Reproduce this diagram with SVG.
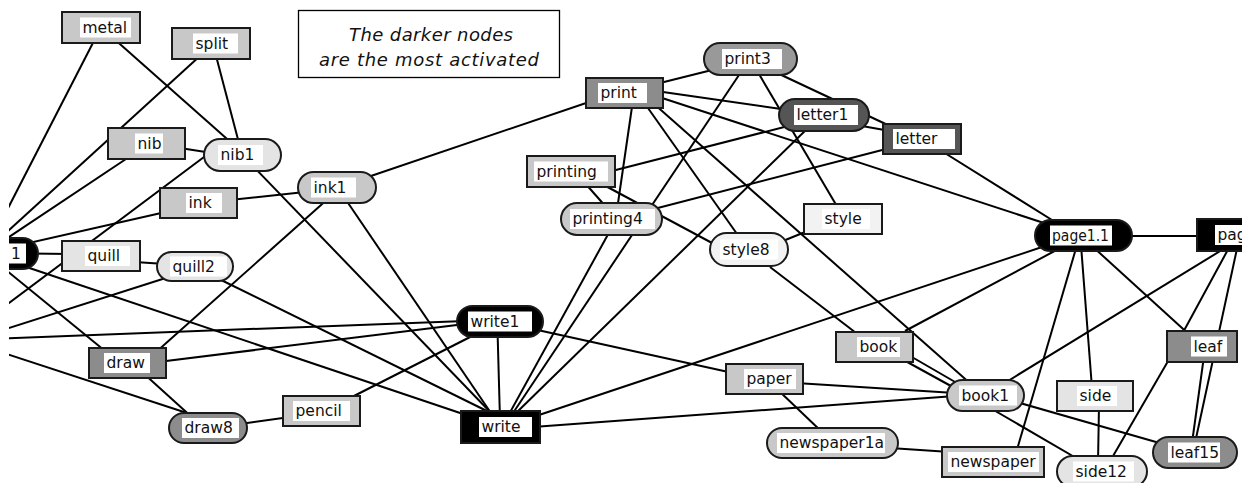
<svg xmlns="http://www.w3.org/2000/svg" width="1242" height="483" viewBox="0 0 1242 483">
  <style>
    .e { stroke: #000; stroke-width: 2; fill: none; }
    .n { stroke: #1a1a1a; stroke-width: 2; }
    .lb { fill: #fff; }
    .t { font-family: "DejaVu Sans", Verdana, sans-serif; font-size: 15.5px; fill: #111; }
    .cap { font-family: "DejaVu Sans", Verdana, sans-serif; font-size: 18px; font-style: italic; fill: #111; text-anchor: middle; }
    .k0 { fill: #000; }
    .k1 { fill: #555; }
    .k2 { fill: #8c8c8c; }
    .k2b { fill: #999; }
    .k3 { fill: #c8c8c8; }
    .k4 { fill: #e4e4e4; }
    .k5 { fill: #f2f2f2; }
  </style>
  <defs>
    <clipPath id="view">
      <rect x="9" y="0" width="1233" height="483"/>
    </clipPath>
  </defs>
  <rect width="1242" height="483" fill="#fff"/>

  <g clip-path="url(#view)">
    <g id="connectors">
      <line class="e" x1="97" y1="35" x2="-15" y2="253"/>
      <line class="e" x1="201" y1="55" x2="-16" y2="253"/>
      <line class="e" x1="132" y1="155" x2="-15" y2="253"/>
      <line class="e" x1="170" y1="211" x2="-15" y2="253"/>
      <line class="e" x1="-15" y1="253" x2="70" y2="254"/>
      <line class="e" x1="110" y1="355" x2="-15" y2="253"/>
      <line class="e" x1="-15" y1="253" x2="475" y2="418"/>
      <line class="e" x1="212" y1="151" x2="-27" y2="330"/>
      <line class="e" x1="172" y1="276" x2="-27" y2="339.5"/>
      <line class="e" x1="465" y1="321" x2="-27" y2="339.5"/>
      <line class="e" x1="190" y1="414" x2="-27" y2="343"/>
      <line class="e" x1="158" y1="362" x2="465" y2="324"/>
      <line class="e" x1="155" y1="353" x2="330" y2="197"/>
      <line class="e" x1="142" y1="372" x2="195" y2="420"/>
      <line class="e" x1="135" y1="262" x2="165" y2="264"/>
      <line class="e" x1="215" y1="277" x2="495" y2="415"/>
      <line class="e" x1="112" y1="37" x2="235" y2="146"/>
      <line class="e" x1="215" y1="52" x2="240" y2="147"/>
      <line class="e" x1="180" y1="148" x2="212" y2="153"/>
      <line class="e" x1="252" y1="165" x2="494" y2="416"/>
      <line class="e" x1="230" y1="200" x2="305" y2="192"/>
      <line class="e" x1="344" y1="197" x2="493" y2="416"/>
      <line class="e" x1="365" y1="178" x2="592" y2="101"/>
      <line class="e" x1="350" y1="398" x2="478" y2="333"/>
      <line class="e" x1="240" y1="424" x2="290" y2="417"/>
      <line class="e" x1="497.5" y1="330" x2="500" y2="420"/>
      <line class="e" x1="533" y1="329" x2="733" y2="373"/>
      <line class="e" x1="633" y1="100" x2="617" y2="210"/>
      <line class="e" x1="656" y1="84" x2="716" y2="69"/>
      <line class="e" x1="656" y1="91" x2="788" y2="110"/>
      <line class="e" x1="656" y1="96" x2="1050" y2="225"/>
      <line class="e" x1="643" y1="101" x2="742" y2="241"/>
      <line class="e" x1="653" y1="103" x2="972" y2="385"/>
      <line class="e" x1="743" y1="69" x2="511" y2="416"/>
      <line class="e" x1="775" y1="72" x2="892" y2="127"/>
      <line class="e" x1="756" y1="69" x2="838" y2="208"/>
      <line class="e" x1="862" y1="126" x2="890" y2="131"/>
      <line class="e" x1="810" y1="126" x2="514" y2="415"/>
      <line class="e" x1="608" y1="172" x2="792" y2="125"/>
      <line class="e" x1="584" y1="182" x2="607" y2="208"/>
      <line class="e" x1="600" y1="183" x2="727" y2="251"/>
      <line class="e" x1="650" y1="210" x2="890" y2="148"/>
      <line class="e" x1="611" y1="229" x2="508" y2="416"/>
      <line class="e" x1="778" y1="243" x2="810" y2="230"/>
      <line class="e" x1="770" y1="267" x2="860" y2="336"/>
      <line class="e" x1="1064" y1="246" x2="905" y2="331"/>
      <line class="e" x1="1048" y1="245" x2="533" y2="417"/>
      <line class="e" x1="1125" y1="236" x2="1205" y2="236"/>
      <line class="e" x1="1077" y1="245" x2="1016" y2="453"/>
      <line class="e" x1="1081" y1="245" x2="1092" y2="388"/>
      <line class="e" x1="1092" y1="246" x2="1193" y2="338"/>
      <line class="e" x1="1230" y1="245" x2="1003" y2="384"/>
      <line class="e" x1="1231" y1="244" x2="1180" y2="338"/>
      <line class="e" x1="1238" y1="244" x2="1195" y2="443"/>
      <line class="e" x1="1204" y1="356" x2="1192" y2="443"/>
      <line class="e" x1="1171" y1="356" x2="1109" y2="463"/>
      <line class="e" x1="955" y1="396" x2="533" y2="427"/>
      <line class="e" x1="796" y1="383" x2="955" y2="393"/>
      <line class="e" x1="985" y1="405" x2="1083" y2="462"/>
      <line class="e" x1="1013" y1="401" x2="1163" y2="444"/>
      <line class="e" x1="900" y1="358" x2="960" y2="391"/>
      <line class="e" x1="905" y1="353" x2="962" y2="386"/>
      <line class="e" x1="1099" y1="405" x2="1098" y2="463"/>
      <line class="e" x1="778" y1="390" x2="822" y2="432"/>
      <line class="e" x1="890" y1="448" x2="950" y2="452"/>
      <line class="e" x1="940" y1="150" x2="1060" y2="225"/>
    </g>

    <g id="node-1">
      <rect class="n k0" x="-60" y="238" width="98" height="31" rx="15.5"/>
      <rect class="lb" x="0" y="243.5" width="26" height="20"/>
      <text class="t" x="11" y="258.5">1</text>
    </g>
    <g id="node-metal">
      <rect class="n k3" x="62" y="12" width="78" height="31"/>
      <rect class="lb" x="80" y="17.5" width="51" height="20"/>
      <text class="t" x="82.5" y="32.5">metal</text>
    </g>
    <g id="node-split">
      <rect class="n k3" x="172" y="28" width="78" height="31"/>
      <rect class="lb" x="193" y="33.5" width="45" height="20"/>
      <text class="t" x="195.5" y="48.5">split</text>
    </g>
    <g id="node-nib">
      <rect class="n k3" x="108" y="128" width="77" height="31"/>
      <rect class="lb" x="135" y="133.5" width="28" height="20"/>
      <text class="t" x="137.5" y="148.5">nib</text>
    </g>
    <g id="node-nib1">
      <rect class="n k4" x="204" y="139" width="77" height="32" rx="16"/>
      <rect class="lb" x="218" y="145" width="45" height="20"/>
      <text class="t" x="220.5" y="160">nib1</text>
    </g>
    <g id="node-ink">
      <rect class="n k3" x="160" y="188" width="77" height="30"/>
      <rect class="lb" x="186" y="193" width="36" height="20"/>
      <text class="t" x="188.5" y="208">ink</text>
    </g>
    <g id="node-ink1">
      <rect class="n k3" x="298" y="172" width="78" height="31" rx="15.5"/>
      <rect class="lb" x="311" y="177.5" width="45" height="20"/>
      <text class="t" x="313.5" y="192.5">ink1</text>
    </g>
    <g id="node-quill">
      <rect class="n k4" x="62" y="241" width="78" height="30"/>
      <rect class="lb" x="85" y="246" width="45" height="20"/>
      <text class="t" x="87.5" y="261">quill</text>
    </g>
    <g id="node-quill2">
      <rect class="n k4" x="157" y="252" width="76" height="29" rx="14.5"/>
      <rect class="lb" x="170" y="256.5" width="57" height="20"/>
      <text class="t" x="172.5" y="271.5">quill2</text>
    </g>
    <g id="node-draw">
      <rect class="n k2" x="89" y="348" width="77" height="30"/>
      <rect class="lb" x="104" y="353" width="46" height="20"/>
      <text class="t" x="106.5" y="368">draw</text>
    </g>
    <g id="node-draw8">
      <rect class="n k2" x="169" y="413" width="78" height="30" rx="15"/>
      <rect class="lb" x="182" y="418" width="57" height="20"/>
      <text class="t" x="184.5" y="433">draw8</text>
    </g>
    <g id="node-pencil">
      <rect class="n k3" x="283" y="396" width="77" height="30"/>
      <rect class="lb" x="293" y="401" width="57" height="20"/>
      <text class="t" x="295.5" y="416">pencil</text>
    </g>
    <g id="node-write1">
      <rect class="n k0" x="457" y="306" width="86" height="31" rx="15.5"/>
      <rect class="lb" x="468" y="311.5" width="64" height="20"/>
      <text class="t" x="470.5" y="326.5">write1</text>
    </g>
    <g id="node-write">
      <rect class="n k0" x="461" y="411" width="79" height="32"/>
      <rect class="lb" x="479" y="417" width="53" height="20"/>
      <text class="t" x="481.5" y="432">write</text>
    </g>
    <g id="node-print">
      <rect class="n k2" x="586" y="78" width="77" height="30"/>
      <rect class="lb" x="598" y="83" width="49" height="20"/>
      <text class="t" x="600.5" y="98">print</text>
    </g>
    <g id="node-print3">
      <rect class="n k2b" x="704" y="43" width="93" height="32" rx="16"/>
      <rect class="lb" x="722" y="49" width="60" height="20"/>
      <text class="t" x="724.5" y="64">print3</text>
    </g>
    <g id="node-letter1">
      <rect class="n k1" x="779" y="99" width="90" height="32" rx="16"/>
      <rect class="lb" x="794" y="105" width="64" height="20"/>
      <text class="t" x="796.5" y="120">letter1</text>
    </g>
    <g id="node-letter">
      <rect class="n k1" x="883" y="124" width="78" height="30"/>
      <rect class="lb" x="893" y="129" width="62" height="20"/>
      <text class="t" x="895.5" y="144">letter</text>
    </g>
    <g id="node-printing">
      <rect class="n k3" x="527" y="156" width="88" height="31"/>
      <rect class="lb" x="534" y="161.5" width="74" height="20"/>
      <text class="t" x="536.5" y="176.5">printing</text>
    </g>
    <g id="node-printing4">
      <rect class="n k3" x="561" y="203" width="101" height="32" rx="16"/>
      <rect class="lb" x="570" y="209" width="85" height="20"/>
      <text class="t" x="572.5" y="224">printing4</text>
    </g>
    <g id="node-style">
      <rect class="n k5" x="804" y="204" width="78" height="30"/>
      <rect class="lb" x="822" y="209" width="48" height="20"/>
      <text class="t" x="824.5" y="224">style</text>
    </g>
    <g id="node-style8">
      <rect class="n k5" x="710" y="233" width="78" height="33" rx="16.5"/>
      <rect class="lb" x="720" y="239.5" width="58" height="20"/>
      <text class="t" x="722.5" y="254.5">style8</text>
    </g>
    <g id="node-page1-1">
      <rect class="n k0" x="1035" y="220" width="97" height="31" rx="15.5"/>
      <rect class="lb" x="1050" y="225.5" width="62" height="20"/>
      <text class="t" x="1052" y="240.5" textLength="57" lengthAdjust="spacingAndGlyphs">page1.1</text>
    </g>
    <g id="node-page">
      <rect class="n k0" x="1197" y="219" width="60" height="32"/>
      <rect class="lb" x="1215" y="225" width="40" height="20"/>
      <text class="t" x="1217.5" y="240">page</text>
    </g>
    <g id="node-book">
      <rect class="n k3" x="836" y="332" width="77" height="30"/>
      <rect class="lb" x="857" y="337" width="43" height="20"/>
      <text class="t" x="859.5" y="352">book</text>
    </g>
    <g id="node-book1">
      <rect class="n k3" x="947" y="380" width="77" height="31" rx="15.5"/>
      <rect class="lb" x="959" y="385.5" width="58" height="20"/>
      <text class="t" x="961.5" y="400.5">book1</text>
    </g>
    <g id="node-paper">
      <rect class="n k3" x="726" y="364" width="77" height="30"/>
      <rect class="lb" x="744" y="369" width="52" height="20"/>
      <text class="t" x="746.5" y="384">paper</text>
    </g>
    <g id="node-newspaper1a">
      <rect class="n k3" x="767" y="428" width="131" height="30" rx="15"/>
      <rect class="lb" x="777" y="433" width="108" height="20"/>
      <text class="t" x="779.5" y="448">newspaper1a</text>
    </g>
    <g id="node-newspaper">
      <rect class="n k3" x="942" y="447" width="102" height="30"/>
      <rect class="lb" x="948" y="452" width="91" height="20"/>
      <text class="t" x="950.5" y="467">newspaper</text>
    </g>
    <g id="node-side">
      <rect class="n k4" x="1057" y="381" width="76" height="30"/>
      <rect class="lb" x="1077" y="386" width="40" height="20"/>
      <text class="t" x="1079.5" y="401">side</text>
    </g>
    <g id="node-side12">
      <rect class="n k4" x="1057" y="456" width="90" height="31" rx="15.5"/>
      <rect class="lb" x="1073" y="461.5" width="61" height="20"/>
      <text class="t" x="1075.5" y="476.5">side12</text>
    </g>
    <g id="node-leaf">
      <rect class="n k2" x="1167" y="331" width="70" height="31"/>
      <rect class="lb" x="1191" y="336.5" width="36" height="20"/>
      <text class="t" x="1193.5" y="351.5">leaf</text>
    </g>
    <g id="node-leaf15">
      <rect class="n k2" x="1153" y="437" width="84" height="31" rx="15.5"/>
      <rect class="lb" x="1168" y="442.5" width="52" height="20"/>
      <text class="t" x="1170.5" y="457.5">leaf15</text>
    </g>
  </g>

  <g id="caption">
    <rect x="298.5" y="10.5" width="261" height="67" fill="#fff" stroke="#000" stroke-width="1.3"/>
    <text class="cap" x="431" y="40.5" textLength="164" lengthAdjust="spacing">The darker nodes</text>
    <text class="cap" x="429" y="66" textLength="220" lengthAdjust="spacing">are the most activated</text>
  </g>
</svg>
